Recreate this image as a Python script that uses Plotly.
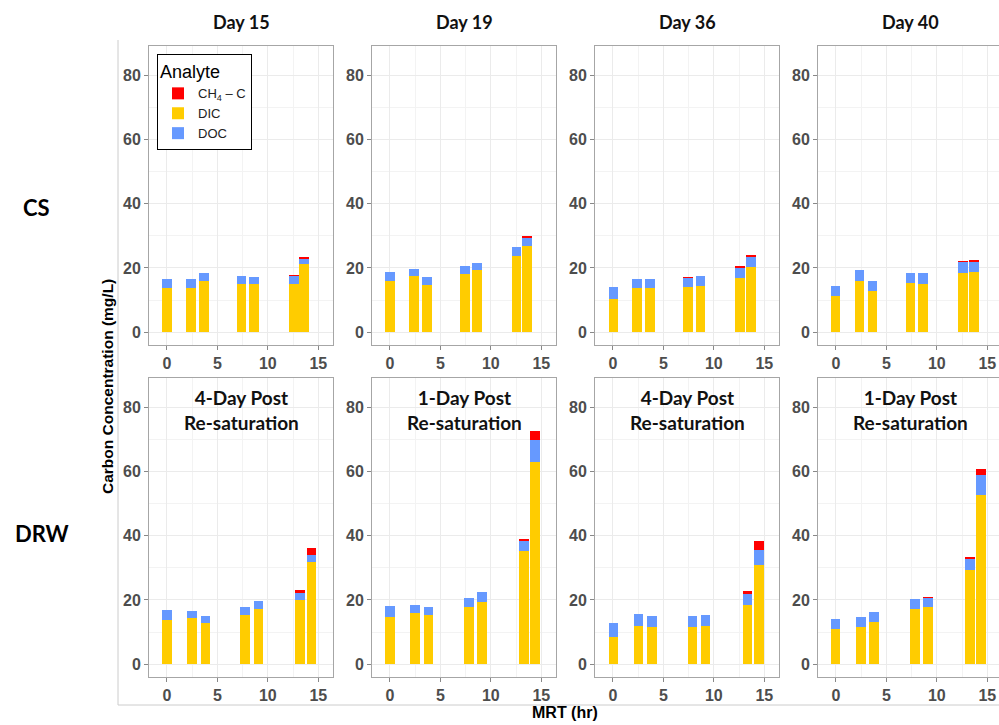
import plotly.graph_objects as go

# ---- data -------------------------------------------------------------
columns = ["Day 15", "Day 19", "Day 36", "Day 40"]
rows = ["CS", "DRW"]
drw_notes = ["4-Day Post<br>Re-saturation", "1-Day Post<br>Re-saturation",
             "4-Day Post<br>Re-saturation", "1-Day Post<br>Re-saturation"]

# mean residence time (hr) of each sampling port, per panel
mrt_cs = [
    [0.0, 2.37, 3.67, 7.40, 8.64, 12.56, 13.60],
    [0.0, 2.35, 3.64, 7.41, 8.64, 12.55, 13.60],
    [0.05, 2.41, 3.68, 7.45, 8.68, 12.60, 13.66],
    [-0.05, 2.32, 3.62, 7.38, 8.62, 12.58, 13.65],
]
mrt_drw = [
    [0.0, 2.47, 3.81, 7.75, 9.07, 13.18, 14.34],
    [0.0, 2.49, 3.83, 7.83, 9.13, 13.30, 14.37],
    [0.05, 2.52, 3.88, 7.87, 9.16, 13.34, 14.45],
    [-0.05, 2.45, 3.80, 7.82, 9.10, 13.27, 14.40],
]

# carbon concentrations (mg/L)
dic_cs = [
    [13.9, 13.9, 15.9, 14.9, 15.1, 15.1, 21.1],
    [15.8, 17.4, 14.6, 18.2, 19.3, 23.8, 26.8],
    [10.3, 13.6, 13.6, 14.1, 14.4, 16.9, 20.3],
    [11.2, 16.0, 12.9, 15.4, 15.1, 18.4, 18.8],
]
doc_cs = [
    [2.7, 2.5, 2.6, 2.7, 2.0, 2.5, 1.8],
    [2.9, 2.4, 2.6, 2.3, 2.3, 2.7, 2.8],
    [3.7, 3.0, 3.0, 3.0, 3.1, 3.3, 3.1],
    [3.2, 3.3, 3.1, 2.9, 3.4, 3.5, 3.1],
]
ch4_cs = [
    [0.0, 0.0, 0.0, 0.0, 0.0, 0.05, 0.5],
    [0.0, 0.0, 0.0, 0.0, 0.0, 0.0, 0.1],
    [0.0, 0.0, 0.0, 0.05, 0.0, 0.2, 0.7],
    [0.0, 0.0, 0.0, 0.0, 0.0, 0.05, 0.4],
]
dic_drw = [
    [13.9, 14.3, 12.7, 15.4, 17.3, 19.9, 31.7],
    [14.8, 15.9, 15.2, 17.9, 19.3, 35.2, 63.0],
    [8.6, 11.8, 11.6, 11.6, 11.8, 18.4, 30.8],
    [10.8, 11.7, 13.2, 17.3, 17.7, 29.4, 52.8],
]
doc_drw = [
    [3.0, 2.4, 2.2, 2.4, 2.5, 2.3, 2.4],
    [3.4, 2.5, 2.6, 2.7, 3.1, 3.0, 6.8],
    [4.1, 3.7, 3.5, 3.4, 3.6, 3.6, 4.6],
    [3.4, 2.9, 2.9, 3.1, 3.0, 3.5, 6.1],
]
ch4_drw = [
    [0.0, 0.0, 0.0, 0.0, 0.0, 0.8, 2.2],
    [0.0, 0.0, 0.0, 0.0, 0.0, 0.8, 2.7],
    [0.0, 0.0, 0.0, 0.0, 0.0, 0.8, 2.9],
    [0.0, 0.0, 0.0, 0.0, 0.05, 0.4, 1.9],
]

x_ticks = [0, 5, 10, 15]
y_ticks = [0, 20, 40, 60, 80]

# ---- styling / geometry -------------------------------------------------
W, H = 999, 725
COL_DIC = "#FFCC00"
COL_DOC = "#6699FF"
COL_CH4 = "#FF0000"
GRID = "#EBEBEB"
BORDER = "#A6A6A6"
TICK_FONT = dict(family="Liberation Sans, Arial, sans-serif", size=16,
                 color="#4D4D4D", weight="bold")
LABEL_FONT = "Lato, Open Sans, sans-serif"

col_px = [(149, 333), (372, 556), (595, 779), (818, 999)]
row_px = [(46, 345), (378, 677)]
PX_PER_HR = 10.09
X_LEFT = -1.78
Y_RANGE = [-4.0, 89.1]
BAR_W = 0.96


def px_x(p):
    return p / W


def px_y(p):
    return 1 - p / H


fig = go.Figure()
layout = {}

panels = []
for r in range(2):
    for c in range(4):
        if r == 0:
            panels.append((r, c, mrt_cs[c], dic_cs[c], doc_cs[c], ch4_cs[c]))
        else:
            panels.append((r, c, mrt_drw[c], dic_drw[c], doc_drw[c], ch4_drw[c]))

for i, (r, c, mrt, dic, doc, ch4) in enumerate(panels):
    n = i + 1
    xa = "x" if n == 1 else f"x{n}"
    ya = "y" if n == 1 else f"y{n}"
    first = n == 1
    series = [
        ("DIC", dic, COL_DIC, 2),
        ("DOC", doc, COL_DOC, 3),
        ("CH<sub>4</sub> – C", ch4, COL_CH4, 1),
    ]
    for name, vals, color, rank in series:
        fig.add_trace(go.Bar(
            x=mrt, y=vals, width=BAR_W, name=name,
            marker=dict(color=color, line=dict(width=0)),
            legendgroup=name, legendrank=rank, showlegend=first,
            xaxis=xa, yaxis=ya,
        ))

    x0, x1 = col_px[c]
    y0, y1 = row_px[r]
    xr = [X_LEFT, X_LEFT + (x1 - x0) / PX_PER_HR]
    key = "" if n == 1 else str(n)
    layout[f"xaxis{key}"] = dict(
        domain=[px_x(x0), px_x(x1)], range=xr, anchor=ya,
        tickvals=x_ticks, ticks="outside", ticklen=4, tickcolor="#888888",
        tickfont=TICK_FONT, showgrid=True, gridcolor=GRID, gridwidth=1,
        minor=dict(dtick=2.5, tick0=0, showgrid=True, gridcolor="#F3F3F3",
                   gridwidth=1),
        showline=True, mirror=True, linecolor=BORDER, linewidth=1,
        zeroline=False, fixedrange=True,
    )
    layout[f"yaxis{key}"] = dict(
        domain=[px_y(y1), px_y(y0)], range=Y_RANGE, anchor=xa,
        tickvals=y_ticks, ticks="outside", ticklen=4, tickcolor="#888888",
        tickfont=TICK_FONT, showgrid=True, gridcolor=GRID, gridwidth=1,
        minor=dict(dtick=10, tick0=0, showgrid=True, gridcolor="#F3F3F3",
                   gridwidth=1),
        showline=True, mirror=True, linecolor=BORDER, linewidth=1,
        zeroline=False, fixedrange=True,
    )

annotations = []
# column strip titles
for c, label in enumerate(columns):
    x0, x1 = col_px[c]
    cx = (x0 + x1) / 2 if c < 3 else x0 + 92
    annotations.append(dict(
        x=px_x(cx), y=px_y(22), xref="paper", yref="paper",
        text=f"<b>{label}</b>", showarrow=False,
        font=dict(family=LABEL_FONT, size=18, color="#111111"),
        xanchor="center", yanchor="middle",
    ))
# notes inside the DRW panels
for c, note in enumerate(drw_notes):
    x0, x1 = col_px[c]
    cx = (x0 + x1) / 2 if c < 3 else x0 + 92
    annotations.append(dict(
        x=px_x(cx), y=px_y(410), xref="paper", yref="paper",
        text=f"<b>{note}</b>", showarrow=False,
        font=dict(family=LABEL_FONT, size=19, color="#111111"),
        xanchor="center", yanchor="middle",
    ))
# row labels
for label, (cx, cy) in zip(rows, [(36, 207), (42, 533)]):
    annotations.append(dict(
        x=px_x(cx), y=px_y(cy), xref="paper", yref="paper",
        text=f"<b>{label}</b>", showarrow=False,
        font=dict(family=LABEL_FONT, size=22, color="#000000"),
        xanchor="center", yanchor="middle",
    ))
# axis titles
annotations.append(dict(
    x=px_x(107), y=px_y(387), xref="paper", yref="paper",
    text="<b>Carbon Concentration (mg/L)</b>", showarrow=False, textangle=-90,
    font=dict(family="Liberation Sans, Arial", size=15.5, color="#000000"),
    xanchor="center", yanchor="middle",
))
annotations.append(dict(
    x=px_x(565), y=px_y(712), xref="paper", yref="paper",
    text="<b>MRT (hr)</b>", showarrow=False,
    font=dict(family="Liberation Sans, Arial", size=16, color="#000000"),
    xanchor="center", yanchor="middle",
))

# light frame around the panel block
shapes = [
    dict(type="line", xref="paper", yref="paper",
         x0=px_x(118), x1=px_x(118), y0=px_y(40), y1=px_y(705),
         line=dict(color="#CCCCCC", width=1)),
    dict(type="line", xref="paper", yref="paper",
         x0=px_x(118), x1=1, y0=px_y(705), y1=px_y(705),
         line=dict(color="#CCCCCC", width=1)),
]

fig.update_layout(
    width=W, height=H,
    margin=dict(l=0, r=0, t=0, b=0),
    paper_bgcolor="white", plot_bgcolor="white",
    barmode="stack", bargap=0,
    showlegend=True,
    legend=dict(
        x=px_x(157), y=px_y(54), xanchor="left", yanchor="top",
        bgcolor="white", bordercolor="#000000", borderwidth=1,
        title=dict(text="Analyte",
                   font=dict(family="Liberation Sans, Arial", size=18,
                             color="#000000")),
        font=dict(family="Liberation Sans, Arial", size=13, color="#222222"),
        tracegroupgap=0, itemwidth=30,
    ),
    annotations=annotations,
    shapes=shapes,
    **layout,
)

fig.write_html("out.html")
